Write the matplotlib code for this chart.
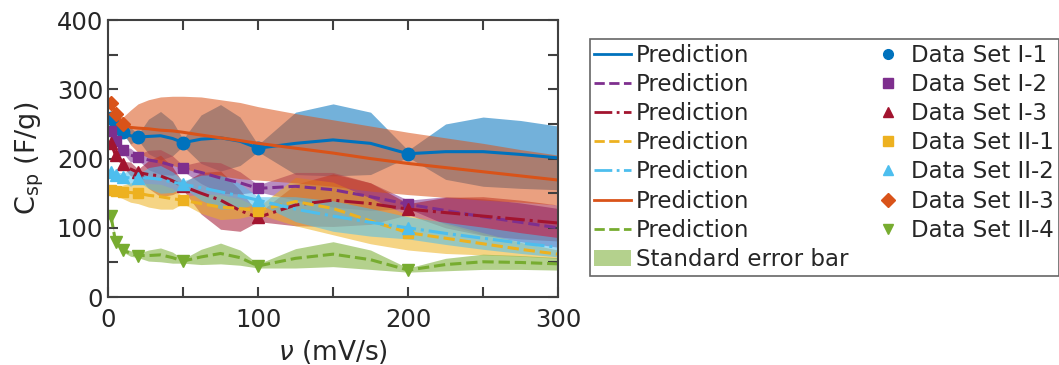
import matplotlib
matplotlib.use("Agg")
import matplotlib.pyplot as plt
from matplotlib.lines import Line2D
from matplotlib.patches import Patch

v_grid = [2, 5, 10, 15, 20, 27, 35, 43, 50, 62, 75, 88, 100, 125, 150, 175, 200, 225, 250, 275, 300]

# prediction means
mean_I1 = [258, 248, 238, 233, 231, 232, 233, 229, 223, 228, 230, 225, 215, 222, 227, 222, 207, 210, 210, 206, 201]
mean_I2 = [240, 225, 212, 205, 202, 198, 195, 190, 186, 180, 172, 165, 157, 160, 155, 145, 134, 125, 116, 108, 100]
mean_I3 = [222, 205, 192, 185, 180, 177, 175, 168, 160, 150, 140, 125, 115, 133, 140, 135, 127, 122, 117, 112, 107]
mean_II1 = [155, 153, 152, 151, 150, 147, 145, 142, 140, 135, 130, 128, 125, 138, 128, 110, 93, 85, 77, 69, 62]
mean_II2 = [180, 176, 173, 172, 172, 172, 170, 166, 163, 158, 152, 146, 140, 127, 117, 108, 100, 92, 85, 78, 72]
mean_II3 = [280, 265, 250, 245, 244, 243, 241, 240, 238, 234, 230, 226, 222, 215, 208, 200, 193, 187, 181, 175, 169]
mean_II4 = [117, 80, 68, 63, 60, 60, 61, 57, 52, 58, 63, 57, 45, 56, 62, 54, 39, 47, 51, 50, 48]

# standard error (half width of band)
std_I1 = [4, 3, 3, 12, 4, 25, 35, 25, 5, 35, 48, 35, 5, 45, 52, 45, 5, 40, 50, 49, 46]
std_I2 = [4, 4, 4, 10, 4, 14, 18, 14, 4, 16, 22, 16, 5, 20, 25, 20, 6, 20, 26, 28, 28]
std_I3 = [4, 4, 4, 10, 5, 20, 30, 20, 5, 30, 42, 30, 6, 30, 38, 30, 8, 22, 28, 28, 26]
std_II1 = [4, 6, 10, 14, 15, 17, 18, 15, 5, 14, 18, 14, 5, 35, 38, 33, 25, 22, 16, 10, 6]
std_II2 = [4, 5, 6, 12, 5, 15, 20, 15, 5, 18, 25, 18, 5, 18, 22, 20, 16, 16, 16, 15, 14]
std_II3 = [5, 5, 10, 25, 35, 42, 48, 50, 52, 55, 55, 55, 53, 50, 48, 47, 45, 43, 41, 38, 36]
std_II4 = [3, 3, 3, 4, 3, 8, 10, 8, 3, 11, 15, 11, 3, 14, 18, 14, 3, 9, 11, 10, 9]

# measured data points
v_data = [2, 5, 10, 20, 50, 100, 200]
data_I1 = [258, 248, 238, 231, 223, 215, 207]
data_I2 = [240, 225, 212, 202, 186, 157, 134]
data_I3 = [222, 205, 192, 180, 160, 115, 127]
data_II1 = [155, 153, 152, 150, 140, 125, 93]
data_II2 = [180, 176, 173, 172, 163, 140, 100]
v_data_II3 = [2, 5, 10]
data_II3 = [280, 265, 250]
data_II4 = [117, 80, 68, 60, 52, 45, 39]

c_blue = '#0072BD'
c_orange = '#D95319'
c_yellow = '#EDB120'
c_purple = '#7E2F8E'
c_green = '#77AC30'
c_cyan = '#4DBEEE'
c_red = '#A2142F'

series = [
    (mean_I1, std_I1, v_data, data_I1, c_blue, '-', 'o', 'Data Set I-1'),
    (mean_I2, std_I2, v_data, data_I2, c_purple, '--', 's', 'Data Set I-2'),
    (mean_I3, std_I3, v_data, data_I3, c_red, '-.', '^', 'Data Set I-3'),
    (mean_II1, std_II1, v_data, data_II1, c_yellow, '--', 's', 'Data Set II-1'),
    (mean_II2, std_II2, v_data, data_II2, c_cyan, '-.', '^', 'Data Set II-2'),
    (mean_II3, std_II3, v_data_II3, data_II3, c_orange, '-', 'D', 'Data Set II-3'),
    (mean_II4, std_II4, v_data, data_II4, c_green, '--', 'v', 'Data Set II-4'),
]

plt.rcParams['font.family'] = 'DejaVu Sans'
text_col = '#262626'

fig = plt.figure(figsize=(10.59, 3.65), dpi=100)
ax = fig.add_axes([0.102, 0.186, 0.425, 0.759])

line_handles = []
marker_handles = []
for m, s, vd, d, col, ls, mk, lab in series:
    lo = [a - b for a, b in zip(m, s)]
    hi = [a + b for a, b in zip(m, s)]
    ax.fill_between(v_grid, lo, hi, color=col, alpha=0.55, linewidth=0)
for m, s, vd, d, col, ls, mk, lab in series:
    ax.plot(v_grid, m, color=col, linestyle=ls, linewidth=2.2)
    ms = 9 if mk in ('o', '^', 'v') else 7
    ax.plot(vd, d, linestyle='none', marker=mk, color=col, markersize=ms)
    line_handles.append(Line2D([], [], color=col, linestyle=ls, linewidth=2))
    marker_handles.append(Line2D([], [], color=col, linestyle='none', marker=mk, markersize=7))

ax.set_xlim(0, 300)
ax.set_ylim(0, 400)
ax.set_xticks([0, 100, 200, 300])
ax.set_xticks([50, 150, 250], minor=True)
ax.set_yticks([0, 100, 200, 300, 400])
ax.set_yticks([50, 150, 250, 350], minor=True)
ax.tick_params(which='both', direction='in', top=True, right=True, length=7,
               width=1.5, colors='#404040', labelcolor=text_col, labelsize=17.5)
ax.tick_params(axis='x', pad=8)
for sp in ax.spines.values():
    sp.set_color('#404040')
    sp.set_linewidth(1.5)
ax.set_xlabel(r'$\nu$ (mV/s)', fontsize=19, color=text_col, labelpad=4)
ax.set_ylabel(r'C$_{\mathrm{sp}}$ (F/g)', fontsize=19.5, color=text_col, labelpad=8)

err_patch = Patch(facecolor=c_green, alpha=0.55, edgecolor='none')
handles = line_handles + [err_patch] + marker_handles
labels = ['Prediction'] * 7 + ['Standard error bar'] + [s[7] for s in series]
leg = fig.legend(handles, labels, loc='upper left', bbox_to_anchor=(0.557, 0.893),
                 ncol=2, fontsize=16.5, frameon=True, fancybox=False,
                 edgecolor='#404040', handlelength=1.6, handletextpad=0.2,
                 labelspacing=0.27, columnspacing=0.95, borderpad=0.2,
                 borderaxespad=0)
leg.get_frame().set_linewidth(1.2)
for t in leg.get_texts():
    t.set_color(text_col)

fig.savefig('out.png', dpi=100)
